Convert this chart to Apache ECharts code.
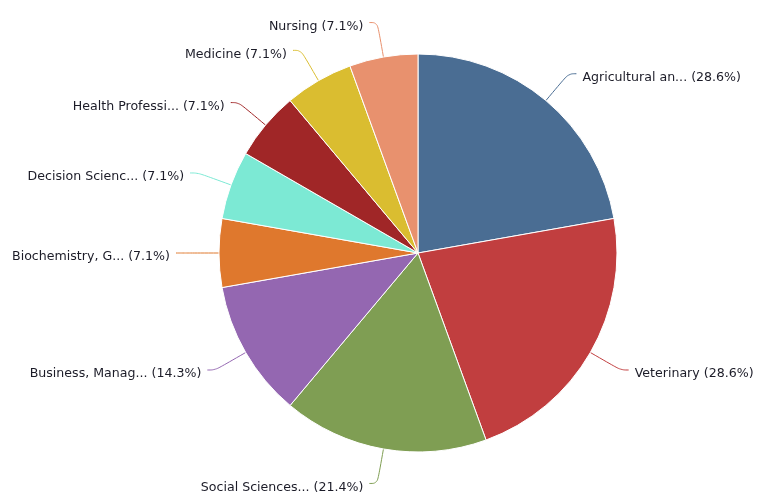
<!DOCTYPE html>
<html>
<head>
<meta charset="utf-8">
<script src="https://cdn.jsdelivr.net/npm/echarts@6/dist/echarts.min.js"></script>
<style>
  html, body { margin: 0; padding: 0; background: #fff; }
  #chart { width: 759px; height: 495px; }
</style>
</head>
<body>
<div id="chart"></div>
<script>
// slice labels as shown (already truncated in the source chart)
const names = [
  'Agricultural an...', 'Veterinary', 'Social Sciences...', 'Business, Manag...',
  'Biochemistry, G...', 'Decision Scienc...', 'Health Professi...', 'Medicine', 'Nursing'
];
const counts = [4, 4, 3, 2, 1, 1, 1, 1, 1];
// percentages printed on the labels (they don't match slice sizes in the original)
const pctLabels = ['28.6%', '28.6%', '21.4%', '14.3%', '7.1%', '7.1%', '7.1%', '7.1%', '7.1%'];
const colors = [
  '#4a6d93', '#c13e3f', '#7f9e53', '#9467b1', '#df782d',
  '#7ce9d4', '#a02627', '#dabd30', '#e8916e'
];

const chart = echarts.init(document.getElementById('chart'));

chart.setOption({
  animation: false,
  color: colors,
  series: [{
    type: 'pie',
    center: [418, 253],
    radius: [0, 199],
    startAngle: 90,
    clockwise: true,
    data: names.map((n, i) => ({ name: n, value: counts[i], pct: pctLabels[i] })),
    itemStyle: { borderColor: '#fff', borderWidth: 1 },
    label: {
      show: true,
      fontFamily: 'DejaVu Sans, sans-serif',
      fontSize: 12.6,
      color: '#1c1c28',
      overflow: 'none',
      distanceToLabelLine: 6,
      formatter: p => `${p.name} (${p.data.pct})`
    },
    labelLine: {
      show: true,
      length: 35,
      length2: 8,
      smooth: 0.4,
      lineStyle: { width: 1 }
    },
    labelLayout: { dy: 4 }
  }]
});
</script>
</body>
</html>
